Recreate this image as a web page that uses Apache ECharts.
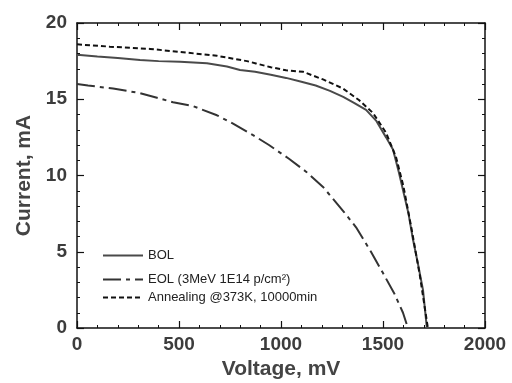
<!DOCTYPE html>
<html>
<head>
<meta charset="utf-8">
<script src="https://cdn.jsdelivr.net/npm/echarts@6/dist/echarts.min.js"></script>
<style>
  html, body { margin: 0; padding: 0; background: #fff; }
  #chart { width: 512px; height: 383px; }
</style>
</head>
<body>
<div id="chart"></div>
<script>
// values (voltage in mV, current in mA)
const bolVoltage = [0, 15, 100, 200, 309, 400, 505, 637, 735, 799, 873, 950, 1025, 1100, 1170, 1240, 1305, 1360, 1417, 1466, 1515, 1549, 1578, 1598, 1625, 1647, 1670, 1696, 1715]
const bolCurrent = [17.9, 17.9, 17.8, 17.7, 17.57, 17.5, 17.46, 17.36, 17.15, 16.92, 16.8, 16.6, 16.4, 16.15, 15.9, 15.55, 15.15, 14.75, 14.3, 13.6, 12.5, 11.7, 10.2, 9.05, 7.5, 5.8, 4.3, 2.5, 0]

const eolVoltage = [0, 54, 177, 309, 392, 471, 569, 686, 765, 863, 941, 1039, 1123, 1206, 1309, 1368, 1441, 1500, 1554, 1598, 1622]
const eolCurrent = [16.0, 15.9, 15.7, 15.4, 15.1, 14.8, 14.55, 13.95, 13.4, 12.65, 12.0, 11.1, 10.25, 9.25, 7.6, 6.6, 5.0, 3.6, 2.3, 1.0, 0]

const annVoltage = [0, 160, 358, 505, 686, 833, 877, 950, 1025, 1108, 1206, 1304, 1382, 1451, 1515, 1564, 1600, 1640, 1680, 1720]
const annCurrent = [18.6, 18.45, 18.3, 18.1, 17.85, 17.5, 17.35, 17.1, 16.9, 16.8, 16.3, 15.7, 14.95, 14.1, 12.8, 11.2, 9.3, 6.5, 3.5, 0]

const seriesNames = ['BOL', 'EOL (3MeV 1E14 p/cm²)', 'Annealing @373K, 10000min']
const xTicks = [0, 500, 1000, 1500, 2000]
const yTicks = [0, 5, 10, 15, 20]

const pairs = (xs, ys) => xs.map((x, i) => [x, ys[i]])
const font = '"Liberation Sans", Arial, sans-serif'

const tickLabel = { color: '#3c3c3c', fontFamily: font, fontSize: 19, fontWeight: 'bold', formatter: v => String(v) }
const axisCommon = {
  type: 'value',
  axisLine: { show: true, onZero: false, lineStyle: { color: '#111', width: 1.5 } },
  axisTick: { show: true, inside: true, length: 7, lineStyle: { color: '#111', width: 1.2 } },
  minorTick: { show: true, splitNumber: 5, length: 3, lineStyle: { color: '#111', width: 1 } },
  splitLine: { show: false }
}
const baseX = { ...axisCommon, min: xTicks[0], max: xTicks[xTicks.length - 1], interval: 500 }
const baseY = { ...axisCommon, min: yTicks[0], max: yTicks[yTicks.length - 1], interval: 5 }

const legendBase = {
  orient: 'vertical', left: 97, itemWidth: 40, itemHeight: 10,
  itemStyle: { opacity: 0 },
  textStyle: { color: '#222', fontFamily: font, fontSize: 13 },
  selectedMode: false
}

const chart = echarts.init(document.getElementById('chart'))
chart.setOption({
  animation: false,
  // keep the grid where it is; v6 otherwise shrinks it to fit outer labels
  grid: { left: 77, right: 27, top: 23, bottom: 55, outerBoundsMode: 'none', containLabel: false },
  legend: [
    { ...legendBase, top: 244, data: [seriesNames[0]] },
    { ...legendBase, top: 268, data: [seriesNames[1]] },
    { ...legendBase, top: 286, data: [seriesNames[2]] }
  ],
  xAxis: [
    {
      ...baseX, position: 'bottom',
      name: 'Voltage, mV', nameLocation: 'middle', nameGap: 29,
      nameTextStyle: { color: '#444', fontFamily: font, fontSize: 21, fontWeight: 'bold' },
      axisLabel: { ...tickLabel, margin: 7 }
    },
    { ...baseX, position: 'top', axisLabel: { show: false } }
  ],
  yAxis: [
    {
      ...baseY, position: 'left',
      name: 'Current, mA', nameLocation: 'middle', nameGap: 42,
      nameTextStyle: { color: '#444', fontFamily: font, fontSize: 21, fontWeight: 'bold' },
      axisLabel: { ...tickLabel, margin: 10 }
    },
    { ...baseY, position: 'right', axisLabel: { show: false } }
  ],
  series: [
    {
      name: seriesNames[0], type: 'line', symbol: 'none',
      lineStyle: { color: '#4a4a4a', width: 2 }, itemStyle: { color: '#4a4a4a' },
      data: pairs(bolVoltage, bolCurrent)
    },
    {
      name: seriesNames[1], type: 'line', symbol: 'none',
      lineStyle: { color: '#333', width: 2, type: [18, 5, 4, 5] }, itemStyle: { color: '#333' },
      data: pairs(eolVoltage, eolCurrent)
    },
    {
      name: seriesNames[2], type: 'line', symbol: 'none',
      lineStyle: { color: '#111', width: 2, type: [5, 3] }, itemStyle: { color: '#111' },
      data: pairs(annVoltage, annCurrent)
    }
  ]
})
</script>
</body>
</html>
